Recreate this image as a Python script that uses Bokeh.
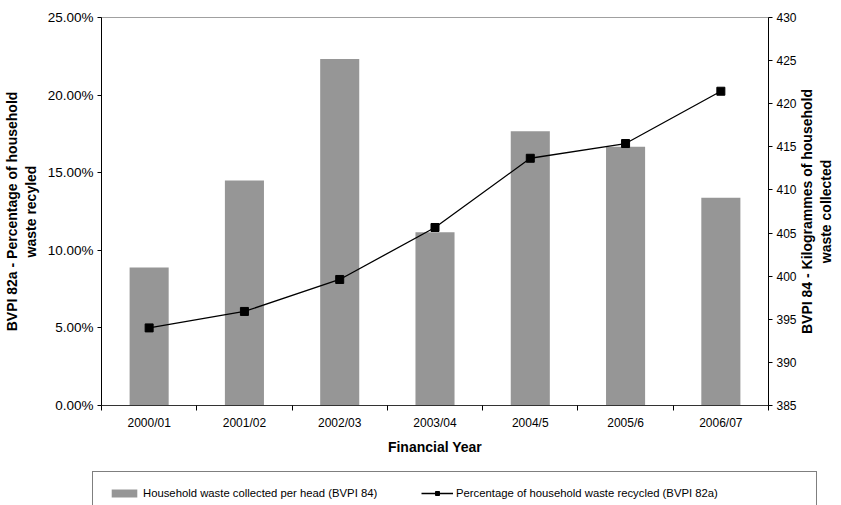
import math
import numpy as np
from bokeh.plotting import figure
from bokeh.layouts import column, row
from bokeh.models import (Range1d, LinearAxis, FixedTicker, PrintfTickFormatter,
                          Legend, LegendItem, Label)
from bokeh.embed import file_html
from bokeh.resources import INLINE

# Financial years and the two BVPI indicators
years = ["2000/01", "2001/02", "2002/03", "2003/04", "2004/5", "2005/6", "2006/07"]
kg_per_head = [401.0, 411.1, 425.2, 405.1, 416.8, 415.0, 409.1]      # BVPI 84
pct_recycled = [5.0, 6.06, 8.12, 11.47, 15.93, 16.88, 20.25]          # BVPI 82a

pct_ticks = [0, 5, 10, 15, 20, 25]
kg_ticks = [385, 390, 395, 400, 405, 410, 415, 420, 425, 430]

FONT = "Liberation Sans"
BAR_GREY = "#969696"
BAR_LABEL = "Household waste collected per head (BVPI 84)"
LINE_LABEL = "Percentage of household waste recycled (BVPI 82a)"
LEFT_TITLE = "BVPI 82a - Percentage of household\nwaste recyled"
RIGHT_TITLE = "BVPI 84 - Kilogrammes of household\nwaste collected"

n = len(years)
centers = np.arange(n) + 0.5          # middle of each year slot
bounds = np.arange(n + 1)             # edges between year slots


def unaligned(fig):
    # keep each panel's frame where its own borders put it
    if "frame_align" in fig.properties():
        fig.frame_align = False


p = figure(width=800, height=471, output_backend="svg", toolbar_location=None,
           x_range=Range1d(0, n), y_range=Range1d(pct_ticks[0], pct_ticks[-1]),
           min_border_left=100, min_border_right=32,
           min_border_top=17, min_border_bottom=66)
unaligned(p)
p.extra_y_ranges = {"kg": Range1d(kg_ticks[0], kg_ticks[-1])}
p.grid.visible = False
p.outline_line_color = "#a0a0a0"

bar_style = dict(fill_color=BAR_GREY, line_color=None)
line_style = dict(line_color="black", line_width=1.3)
mark_style = dict(marker="square", size=8, fill_color="black", line_color="black")

p.vbar(x=centers, top=kg_per_head, bottom=kg_ticks[0], width=0.41,
       y_range_name="kg", **bar_style)
p.line(centers, pct_recycled, **line_style)
p.scatter(centers, pct_recycled, **mark_style)

# x axis: labels under the bars, tick marks between the years
xa = p.xaxis[0]
xa.ticker = FixedTicker(ticks=list(centers), minor_ticks=list(bounds))
xa.major_label_overrides = {float(c): y for c, y in zip(centers, years)}
xa.major_tick_line_color = None
xa.major_tick_in = 0
xa.major_tick_out = 5
xa.minor_tick_in = 0
xa.minor_tick_out = 5
xa.minor_tick_line_color = "black"
xa.axis_line_color = "#333333"
xa.axis_label = "Financial Year"
xa.axis_label_standoff = 6
xa.major_label_text_font_size = "12px"

# left axis: percentage recycled
ya = p.yaxis[0]
ya.ticker = FixedTicker(ticks=pct_ticks)
ya.formatter = PrintfTickFormatter(format="%.2f%%")
ya.axis_label = LEFT_TITLE
ya.axis_label_standoff = 6
ya.major_label_text_font_size = "13.5px"

# right axis: kilogrammes collected (its title sits in the strip to the right)
yr = LinearAxis(y_range_name="kg", ticker=FixedTicker(ticks=kg_ticks))
yr.major_label_text_font_size = "12px"
p.add_layout(yr, "right")

for ax in (xa, ya, yr):
    ax.major_label_text_font = FONT
    ax.major_label_text_color = "black"
    ax.axis_label_text_font = FONT
    ax.axis_label_text_font_size = "14px"
    ax.axis_label_text_font_style = "bold"
    ax.axis_label_text_color = "black"
for ax in (ya, yr):
    ax.minor_tick_line_color = None
    ax.major_tick_in = 0
    ax.major_tick_out = 4
    ax.major_tick_line_color = "black"
    ax.axis_line_color = "black"
    ax.major_label_standoff = 4

# strip holding the right-hand axis title, reading bottom to top
side = figure(width=41, height=471, output_backend="svg", toolbar_location=None,
              x_axis_type=None, y_axis_type=None, min_border=0,
              x_range=Range1d(0, 1), y_range=Range1d(0, 1))
unaligned(side)
side.grid.visible = False
side.outline_line_color = None
side.add_layout(Label(x=16, y=260, x_units="screen", y_units="screen",
                      angle=math.pi / 2, text=RIGHT_TITLE,
                      text_align="center", text_baseline="middle",
                      text_font=FONT, text_font_size="14px",
                      text_font_style="bold", text_color="black"))

# legend strip under the chart; hidden copies of the series feed its keys
key = figure(width=841, height=34, output_backend="svg", toolbar_location=None,
             x_axis_type=None, y_axis_type=None, min_border=0,
             x_range=Range1d(0, 1), y_range=Range1d(0, 1))
unaligned(key)
key.grid.visible = False
key.outline_line_color = None
k_bar = key.vbar(x=centers, top=kg_per_head, width=0.41, visible=False, **bar_style)
k_line = key.line(centers, pct_recycled, visible=False, **line_style)
k_mark = key.scatter(centers, pct_recycled, visible=False, **mark_style)


def style_legend(lg):
    lg.label_text_font = FONT
    lg.label_text_font_size = "11.3px"
    lg.label_text_color = "black"
    lg.glyph_width = 32
    lg.glyph_height = 10
    lg.label_height = 10
    lg.label_standoff = 3
    lg.margin = 0


box = Legend(items=[LegendItem(label=BAR_LABEL, renderers=[k_bar])],
             location=(92, -10))
style_legend(box)
box.label_width = 658
box.padding = 15
box.border_line_color = "black"
box.border_line_width = 1
box.background_fill_alpha = 1
key.add_layout(box, "center")

second = Legend(items=[LegendItem(label=LINE_LABEL, renderers=[k_line, k_mark])],
                location=(421, 6))
style_legend(second)
second.padding = 0
second.border_line_color = None
second.background_fill_alpha = 0
key.add_layout(second, "center")

layout = column(row(p, side, spacing=0), key, spacing=0)
open("out.html", "w").write(file_html(layout, INLINE))
